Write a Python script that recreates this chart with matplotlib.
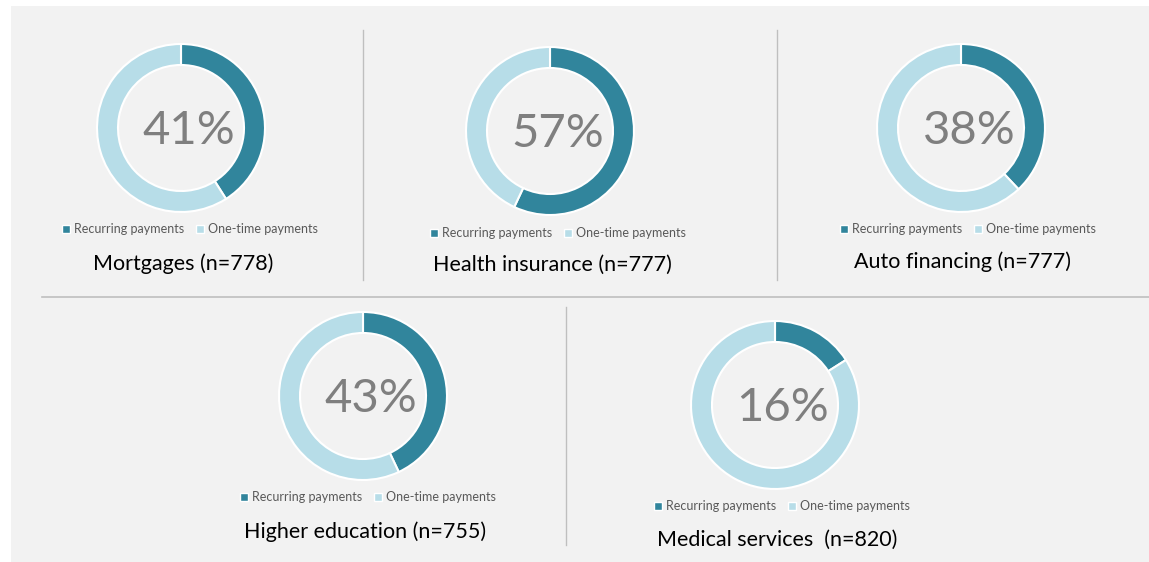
import matplotlib
matplotlib.use("Agg")
import matplotlib.pyplot as plt
from matplotlib.patches import Rectangle
from matplotlib.lines import Line2D
from matplotlib.legend import Legend

# ---- data ----
categories = ["Mortgages (n=778)", "Health insurance (n=777)", "Auto financing (n=777)",
              "Higher education (n=755)", "Medical services  (n=820)"]
recurring = [41, 57, 38, 43, 16]
one_time = [100 - v for v in recurring]
series_labels = ["Recurring payments", "One-time payments"]
colors = ["#31859c", "#b7dde8"]

# ---- layout (pixel coords, y measured from top) ----
W, H = 1149, 562
centers = [(181, 128), (550, 131), (961, 128), (363, 396), (775, 405)]
radius = 84
ring = 0.25
legend_y = [229, 233, 229, 497, 506]
legend_x = [190, 558, 968, 368, 782]
title_y = [264, 265, 262, 532, 540]
title_x = [183, 552, 963, 365, 777]

fig = plt.figure(figsize=(W / 100, H / 100), dpi=100)
fig.patch.set_facecolor("white")
ax = fig.add_axes([0, 0, 1, 1])
ax.set_facecolor("white")

def Y(y):
    return H - y

ax.add_patch(Rectangle((11, 0), W - 11, H - 6, facecolor="#f2f2f2", edgecolor="none", zorder=0))

# dividers
ax.plot([363, 363], [Y(30), Y(280)], color="#bfbfbf", lw=1, zorder=1)
ax.plot([777, 777], [Y(30), Y(280)], color="#bfbfbf", lw=1, zorder=1)
ax.plot([42, W], [Y(297), Y(297)], color="#bfbfbf", lw=1.2, zorder=1)
ax.plot([566, 566], [Y(307), Y(545)], color="#bfbfbf", lw=1, zorder=1)

font = "Lato"
for i, cat in enumerate(categories):
    cx, cy = centers[i]
    ax.pie([recurring[i], one_time[i]], colors=colors, startangle=90, counterclock=False,
           center=(cx, Y(cy)), radius=radius,
           wedgeprops=dict(width=radius * ring, edgecolor="white", linewidth=1.5))
    ax.text(cx + 8, Y(cy + 3), f"{recurring[i]}%", ha="center", va="center", fontsize=34,
            color="#7f7f7f", family=font, fontweight="normal", zorder=5)
    ax.text(title_x[i], Y(title_y[i]), cat, ha="center", va="center", fontsize=15.5,
            color="#000000", family=font, zorder=5)
    handles = [Line2D([], [], marker="s", linestyle="none", markersize=6,
                      markerfacecolor=c, markeredgecolor="white", markeredgewidth=1)
               for c in colors]
    leg = Legend(ax, handles, series_labels, loc="center", ncol=2,
                 bbox_to_anchor=(legend_x[i], Y(legend_y[i])), bbox_transform=ax.transData,
                 frameon=False, handlelength=0.6, handletextpad=0.4, columnspacing=0.9,
                 borderpad=0, prop=dict(family=font, size=9))
    for t in leg.get_texts():
        t.set_color("#595959")
    ax.add_artist(leg)

ax.set_xlim(0, W)
ax.set_ylim(0, H)
ax.set_aspect("auto")
ax.axis("off")

fig.savefig("out.png", dpi=100, facecolor="white")
